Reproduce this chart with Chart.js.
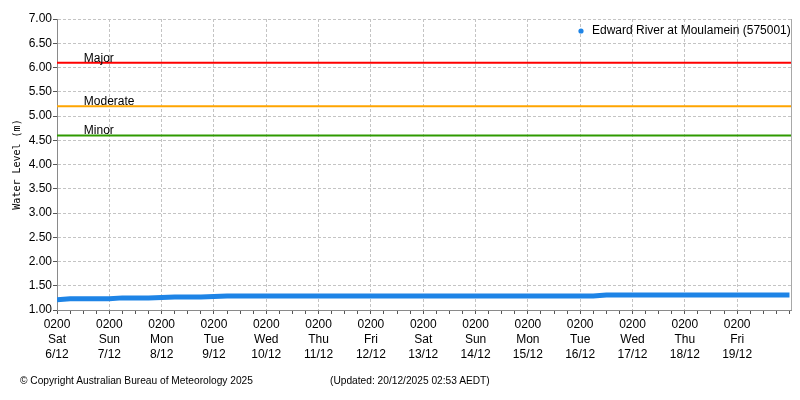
<!DOCTYPE html>
<html>
<head>
<meta charset="utf-8">
<script src="https://cdn.jsdelivr.net/npm/chart.js@4"></script>
<style>
  html, body { margin: 0; padding: 0; background: #fff; }
  #wrap { position: relative; width: 800px; height: 400px; }
  .foot { position: absolute; top: 375px; font: 10.2px 'Liberation Sans', sans-serif; color: #000; white-space: nowrap; }
</style>
</head>
<body>
<div id="wrap">
  <canvas id="levelChart" width="800" height="400"></canvas>
  <div class="foot" style="left:20px">&copy; Copyright Australian Bureau of Meteorology 2025</div>
  <div class="foot" style="left:330px">(Updated: 20/12/2025 02:53 AEDT)</div>
</div>
<script>
'use strict';

// ── Data ─────────────────────────────────────────────────────────────
var SERIES_LABEL = 'Edward River at Moulamein (575001)';
var STEP_HOURS = 6;              // one reading every 6 hours from Sat 6/12 02:00
var END_HOURS = 336.7;           // 20/12 ~02:40
var LEVELS = [
  1.21, 1.23, 1.23, 1.23, 1.23, 1.25, 1.25, 1.25, 1.26, 1.27,
  1.27, 1.27, 1.28, 1.29, 1.29, 1.29, 1.29, 1.29, 1.29, 1.29,
  1.29, 1.29, 1.29, 1.29, 1.29, 1.29, 1.29, 1.29, 1.29, 1.29,
  1.29, 1.29, 1.29, 1.29, 1.29, 1.29, 1.29, 1.29, 1.29, 1.29,
  1.29, 1.29, 1.31, 1.31, 1.31, 1.31, 1.31, 1.31, 1.31, 1.31,
  1.31, 1.31, 1.31, 1.31, 1.31, 1.31, 1.31
];

var THRESHOLD_NAMES  = ['Major', 'Moderate', 'Minor'];
var THRESHOLD_LEVELS = [6.10, 5.20, 4.60];

var TICK_TIME = '0200';
var DAY_NAMES = ['Sat','Sun','Mon','Tue','Wed','Thu','Fri','Sat','Sun','Mon','Tue','Wed','Thu','Fri'];
var DAY_DATES = ['6/12','7/12','8/12','9/12','10/12','11/12','12/12','13/12','14/12','15/12','16/12','17/12','18/12','19/12'];

var Y_MIN = 1, Y_MAX = 7, Y_STEP = 0.5;

// ── Styles ───────────────────────────────────────────────────────────
var BLUE = '#1e84e6';
var THRESHOLD_COLORS = ['#ff0000', '#ffa500', '#2f9a00'];
var GRID = '#c4c4c4';
var AXIS = '#8a8a8a';
var FONT = "'Liberation Sans', sans-serif";

var levelPoints = LEVELS.map(function(v, i){ return { x: i * STEP_HOURS, y: v }; });

var datasets = [{
  label: SERIES_LABEL,
  data: levelPoints,
  borderColor: BLUE,
  backgroundColor: BLUE,
  borderWidth: 5,
  borderCapStyle: 'butt',
  pointRadius: 0,
  tension: 0,
  order: 0
}];

THRESHOLD_LEVELS.forEach(function(lv, i){
  datasets.push({
    label: THRESHOLD_NAMES[i],
    data: [{ x: 0, y: lv }, { x: END_HOURS, y: lv }],
    borderColor: THRESHOLD_COLORS[i],
    borderWidth: 2,
    pointRadius: 0,
    order: 1
  });
});

// threshold names, inline legend and right frame
var decorPlugin = {
  id: 'decor',
  afterDatasetsDraw: function(chart) {
    var ctx = chart.ctx, a = chart.chartArea;
    var xs = chart.scales.x, ys = chart.scales.y;
    ctx.save();
    ctx.font = '12px ' + FONT;
    ctx.fillStyle = '#000';
    ctx.textAlign = 'left';
    ctx.textBaseline = 'alphabetic';
    THRESHOLD_NAMES.forEach(function(name, i){
      ctx.fillText(name, xs.getPixelForValue(12.3), ys.getPixelForValue(THRESHOLD_LEVELS[i]) - 1);
    });

    // legend inside the plot, top right
    ctx.fillStyle = BLUE;
    ctx.beginPath();
    ctx.arc(a.right - 210, a.top + 12, 2.6, 0, Math.PI * 2);
    ctx.fill();
    ctx.fillStyle = '#000';
    ctx.textBaseline = 'middle';
    ctx.fillText(SERIES_LABEL, a.right - 199, a.top + 12);

    ctx.strokeStyle = '#a8a8a8';
    ctx.lineWidth = 1;
    ctx.beginPath();
    ctx.moveTo(Math.round(a.right) + 0.5, a.top);
    ctx.lineTo(Math.round(a.right) + 0.5, a.bottom);
    ctx.stroke();
    ctx.restore();
  }
};

new Chart(document.getElementById('levelChart'), {
  type: 'line',
  data: { datasets: datasets },
  plugins: [decorPlugin],
  options: {
    responsive: false,
    animation: false,
    layout: { padding: { left: 5, right: 9, top: 19, bottom: 40 } },
    plugins: { legend: { display: false }, tooltip: { enabled: false } },
    scales: {
      x: {
        type: 'linear',
        min: 0,
        max: END_HOURS,
        afterFit: function(s){ s.height = 50; },
        grid: {
          color: function(c){
            var v = c.tick ? c.tick.value : 0;
            return (v % 24 === 0 && v > 0 && v < 336) ? GRID : 'rgba(0,0,0,0)';
          },
          tickColor: '#555',
          tickLength: 4,
          lineWidth: 1
        },
        border: { color: AXIS, width: 1, dash: [3, 2] },
        ticks: {
          stepSize: STEP_HOURS,
          includeBounds: false,
          autoSkip: false,
          maxRotation: 0,
          padding: 3,
          color: '#000',
          font: { family: FONT, size: 12, lineHeight: 1.25 },
          callback: function(v){
            if (v % 24 !== 0) return '';
            var d = v / 24;
            if (d >= DAY_NAMES.length) return '';
            return [TICK_TIME, DAY_NAMES[d], DAY_DATES[d]];
          }
        }
      },
      y: {
        min: Y_MIN,
        max: Y_MAX,
        afterFit: function(s){ s.width = 52; },
        grid: { color: GRID, tickColor: '#555', tickLength: 4 },
        border: { color: AXIS, width: 1, dash: [3, 2] },
        ticks: {
          stepSize: Y_STEP,
          padding: 1,
          color: '#000',
          font: { family: FONT, size: 12 },
          callback: function(v){ return v.toFixed(2); }
        },
        title: {
          display: true,
          text: 'Water Level (m)',
          color: '#000',
          font: { family: "'DejaVu Sans Mono', monospace", size: 10 },
          padding: { top: 6, bottom: 0 }
        }
      }
    }
  }
});
</script>
</body>
</html>
